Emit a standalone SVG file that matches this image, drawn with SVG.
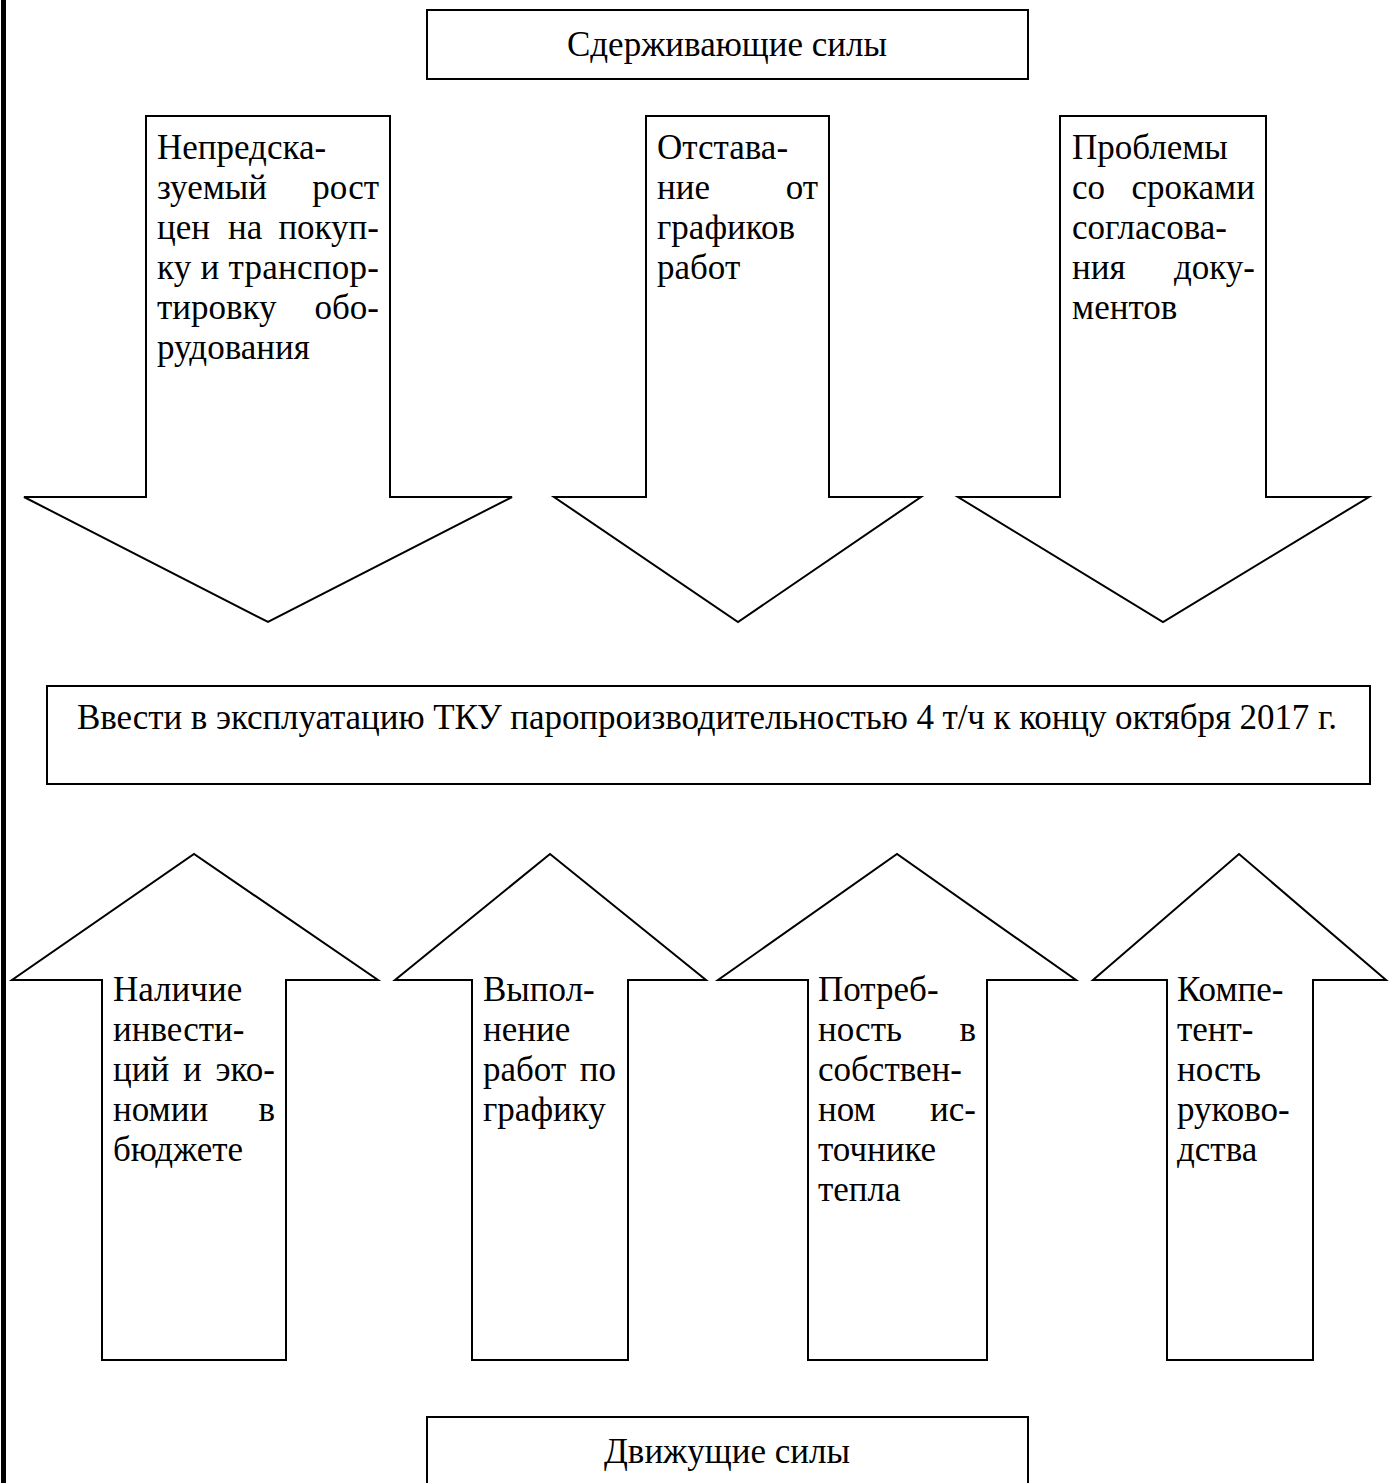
<svg xmlns="http://www.w3.org/2000/svg" width="1394" height="1483" viewBox="0 0 1394 1483">
<style>
.s{fill:#fff;stroke:#000;stroke-width:2;stroke-linejoin:miter}
.t{font-family:"Liberation Serif","Times New Roman",serif;font-size:35px;fill:#000}
.e{text-anchor:end}
.c{text-anchor:middle}
</style>
<rect x="0" y="0" width="1394" height="1483" fill="#fff"/>
<rect x="1" y="0" width="5" height="1483" fill="#000"/>
<g id="connectors"></g>
<g id="top-box">
<rect class="s" x="427" y="10" width="601" height="69"/>
<text class="t c" x="727" y="56">Сдерживающие силы</text>
</g>
<g id="down1">
<polygon class="s" points="146,116 390,116 390,497 512,497 268,622 24,497 146,497"/>
<text class="t" x="157" y="159">Непредска-</text>
<text class="t" x="157" y="199">зуемый</text><text class="t e" x="379" y="199">рост</text>
<text class="t" x="157" y="239">цен</text><text class="t" x="228" y="239">на</text><text class="t e" x="379" y="239">покуп-</text>
<text class="t" x="157" y="279" textLength="222" lengthAdjust="spacing">ку и транспор-</text>
<text class="t" x="157" y="319">тировку</text><text class="t e" x="379" y="319">обо-</text>
<text class="t" x="157" y="359">рудования</text>
</g>
<g id="down2">
<polygon class="s" points="646,116 829,116 829,497 921,497 738,622 554,497 646,497"/>
<text class="t" x="657" y="159">Отстава-</text>
<text class="t" x="657" y="199">ние</text><text class="t e" x="818" y="199">от</text>
<text class="t" x="657" y="239">графиков</text>
<text class="t" x="657" y="279">работ</text>
</g>
<g id="down3">
<polygon class="s" points="1060,116 1266,116 1266,497 1369,497 1163,622 958,497 1060,497"/>
<text class="t" x="1072" y="159">Проблемы</text>
<text class="t" x="1072" y="199">со</text><text class="t e" x="1255" y="199">сроками</text>
<text class="t" x="1072" y="239">согласова-</text>
<text class="t" x="1072" y="279">ния</text><text class="t e" x="1255" y="279">доку-</text>
<text class="t" x="1072" y="319">ментов</text>
</g>
<g id="goal">
<rect class="s" x="47" y="686" width="1323" height="98"/>
<text class="t" x="77" y="729" textLength="1260" lengthAdjust="spacing">Ввести в эксплуатацию ТКУ паропроизводительностью 4 т/ч к концу октября 2017 г.</text>
</g>
<g id="up1">
<polygon class="s" points="102,1360 102,980 12,980 194,854 378,980 286,980 286,1360"/>
<text class="t" x="113" y="1001">Наличие</text>
<text class="t" x="113" y="1041">инвести-</text>
<text class="t" x="113" y="1081">ций</text><text class="t" x="183" y="1081">и</text><text class="t e" x="275" y="1081">эко-</text>
<text class="t" x="113" y="1121">номии</text><text class="t e" x="275" y="1121">в</text>
<text class="t" x="113" y="1161">бюджете</text>
</g>
<g id="up2">
<polygon class="s" points="472,1360 472,980 395,980 550,854 706,980 628,980 628,1360"/>
<text class="t" x="483" y="1001">Выпол-</text>
<text class="t" x="483" y="1041">нение</text>
<text class="t" x="483" y="1081">работ</text><text class="t e" x="616" y="1081">по</text>
<text class="t" x="483" y="1121">графику</text>
</g>
<g id="up3">
<polygon class="s" points="808,1360 808,980 718,980 897,854 1076,980 987,980 987,1360"/>
<text class="t" x="818" y="1001">Потреб-</text>
<text class="t" x="818" y="1041">ность</text><text class="t e" x="976" y="1041">в</text>
<text class="t" x="818" y="1081">собствен-</text>
<text class="t" x="818" y="1121">ном</text><text class="t e" x="976" y="1121">ис-</text>
<text class="t" x="818" y="1161">точнике</text>
<text class="t" x="818" y="1201">тепла</text>
</g>
<g id="up4">
<polygon class="s" points="1167,1360 1167,980 1093,980 1239,854 1386,980 1313,980 1313,1360"/>
<text class="t" x="1177" y="1001">Компе-</text>
<text class="t" x="1177" y="1041">тент-</text>
<text class="t" x="1177" y="1081">ность</text>
<text class="t" x="1177" y="1121">руково-</text>
<text class="t" x="1177" y="1161">дства</text>
</g>
<g id="bottom-box">
<rect class="s" x="427" y="1417" width="601" height="80"/>
<text class="t c" x="727" y="1463">Движущие силы</text>
</g>
</svg>
